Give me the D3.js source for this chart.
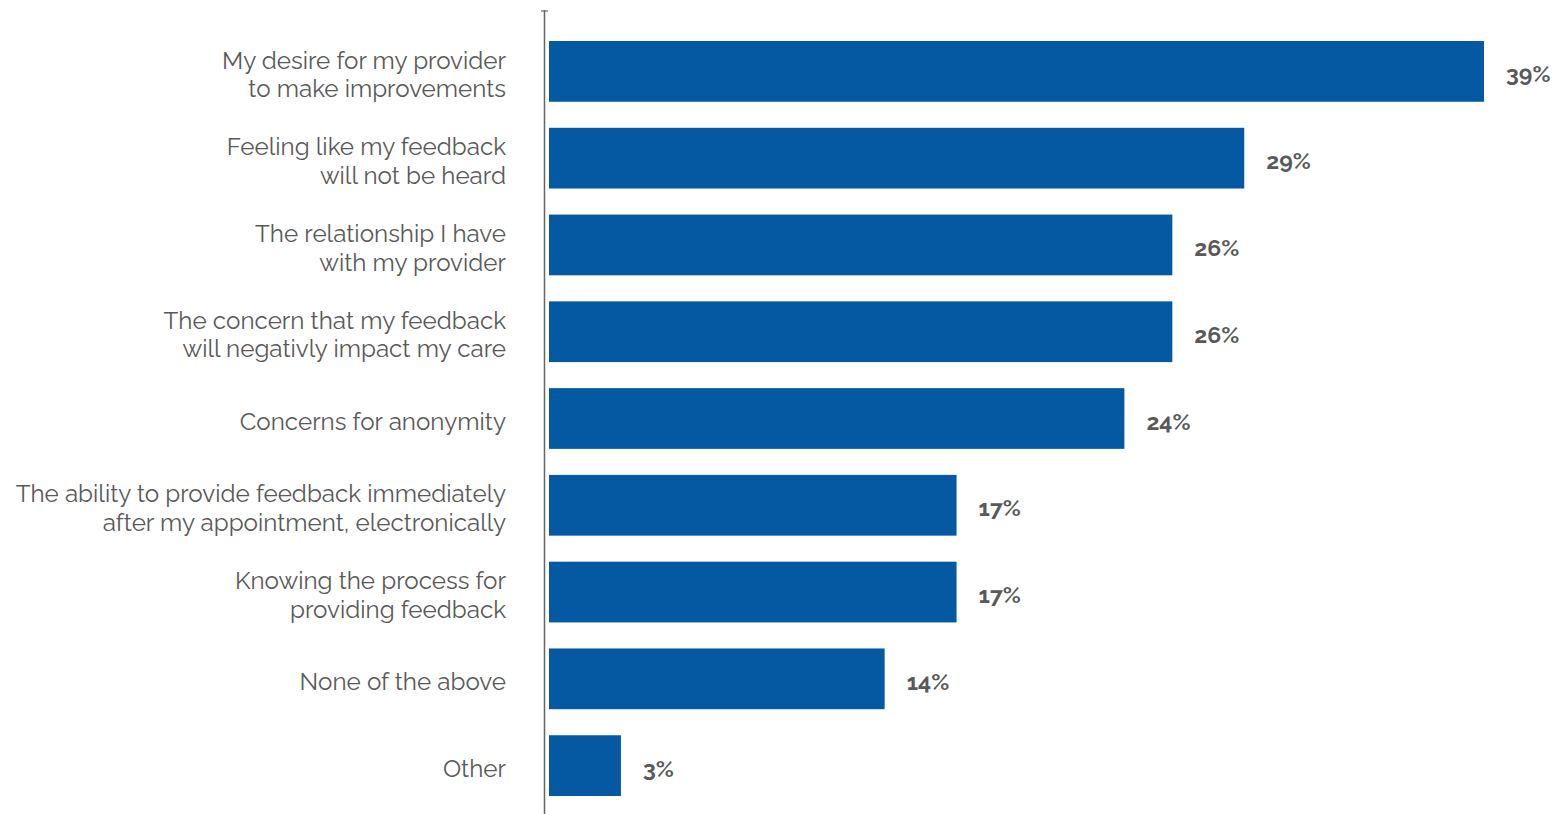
<!DOCTYPE html>
<html>
<head>
<meta charset="utf-8">
<script src="https://cdn.jsdelivr.net/npm/d3@7"></script>
<style>
  html, body { margin: 0; padding: 0; background: #ffffff; }
  svg { display: block; }
</style>
</head>
<body>
<div id="chart"></div>
<script>
const categories = [
  ["My desire for my provider", "to make improvements"],
  ["Feeling like my feedback", "will not be heard"],
  ["The relationship I have", "with my provider"],
  ["The concern that my feedback", "will negativly impact my care"],
  ["Concerns for anonymity"],
  ["The ability to provide feedback immediately", "after my appointment, electronically"],
  ["Knowing the process for", "providing feedback"],
  ["None of the above"],
  ["Other"]
];
const values = [39, 29, 26, 26, 24, 17, 17, 14, 3];
const valueLabels = ["39%", "29%", "26%", "26%", "24%", "17%", "17%", "14%", "3%"];

const W = 1555, H = 814;
const barColor = "#0559a2";
const textColor = "#595959";
const font = "Raleway, Lato, 'Open Sans', sans-serif";

const svg = d3.select("#chart").append("svg")
  .attr("width", W).attr("height", H);

const ids = d3.range(values.length);
const x = d3.scaleLinear().domain([0, 39]).range([549, 1484]);
const y = d3.scaleBand().domain(ids).range([28, 809])
  .paddingInner(0.3).paddingOuter(0.15);

// axis line
svg.append("line")
  .attr("x1", 544.5).attr("x2", 544.5)
  .attr("y1", 10).attr("y2", H)
  .attr("stroke", "#666").attr("stroke-width", 1.5);
svg.append("line")
  .attr("x1", 541).attr("x2", 548)
  .attr("y1", 11).attr("y2", 11)
  .attr("stroke", "#666").attr("stroke-width", 1.2);

// bars
svg.selectAll("rect.bar").data(ids).enter().append("rect")
  .attr("class", "bar")
  .attr("x", x(0))
  .attr("y", d => y(d))
  .attr("width", d => x(values[d]) - x(0))
  .attr("height", y.bandwidth())
  .attr("fill", barColor);

// value labels
svg.selectAll("text.val").data(ids).enter().append("text")
  .attr("class", "val")
  .attr("x", d => x(values[d]) + 22)
  .attr("y", d => y(d) + y.bandwidth() / 2 + 3)
  .attr("dy", "0.35em")
  .attr("font-family", font)
  .attr("font-weight", "bold")
  .attr("font-size", 23)
  .attr("fill", textColor)
  .text(d => valueLabels[d]);

// category labels
const lab = svg.selectAll("text.cat").data(ids).enter().append("text")
  .attr("class", "cat")
  .attr("text-anchor", "end")
  .attr("font-family", font)
  .attr("font-size", 24.2)
  .attr("fill", textColor);
lab.each(function(d) {
  const lines = categories[d];
  const cy = y(d) + y.bandwidth() / 2 + 3;
  const lh = 28.5;
  const t = d3.select(this);
  lines.forEach((ln, i) => {
    t.append("tspan")
      .attr("x", 506)
      .attr("y", cy + (i - (lines.length - 1) / 2) * lh)
      .attr("dy", "0.35em")
      .text(ln);
  });
});
</script>
</body>
</html>
